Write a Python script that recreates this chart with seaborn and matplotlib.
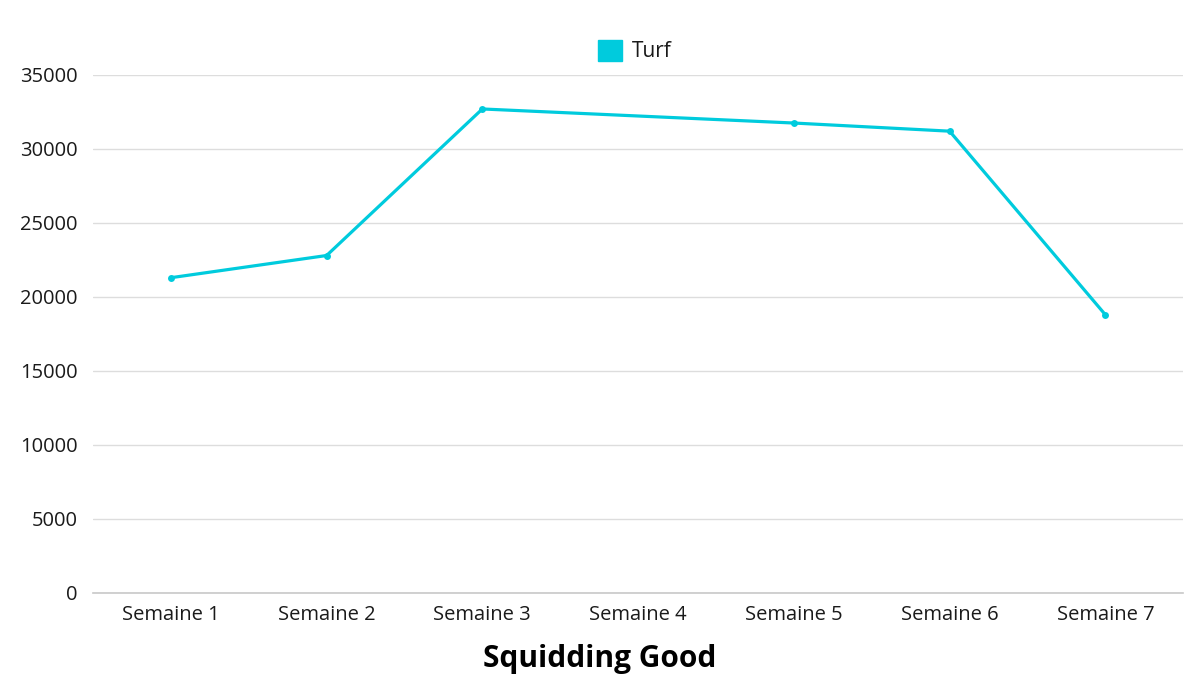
import numpy as np
import pandas as pd
import seaborn as sns
import matplotlib.pyplot as plt
from matplotlib.patches import Patch

categories = ["Semaine 1", "Semaine 2", "Semaine 3", "Semaine 4", "Semaine 5", "Semaine 6", "Semaine 7"]
turf = [21300, 22800, 32700, np.nan, 31750, 31200, 18800]
yticks = [0, 5000, 10000, 15000, 20000, 25000, 30000, 35000]
title = "Squidding Good"
series_name = "Turf"
color = "#00CBDD"

sns.set_theme(style="white")
plt.rcParams['font.family'] = ['Open Sans', 'DejaVu Sans']

df = pd.DataFrame({"pos": np.arange(len(categories)), "cat": categories, "value": turf}).dropna()

fig = plt.figure(figsize=(12, 6.75), dpi=100)
ax = fig.add_axes([0.0775, 0.1215, 0.9085, 0.7675])
sns.lineplot(data=df, x="pos", y="value", ax=ax, color=color, linewidth=2.3,
             marker="o", markersize=5, markeredgewidth=0, legend=False)

ax.set_xlim(-0.5, len(categories) - 0.5)
ax.set_ylim(0, 35000)
ax.set_xticks(np.arange(len(categories)))
ax.set_xticklabels(categories, fontsize=14.5, color="#1a1a1a")
ax.set_yticks(yticks)
ax.set_yticklabels([str(v) for v in yticks], fontsize=14.5, color="#1a1a1a")
ax.tick_params(axis="x", length=0, pad=9)
ax.tick_params(axis="y", length=0, pad=11)
ax.yaxis.grid(True, color="#DDDDDD", linewidth=1)
ax.set_axisbelow(True)
for s in ["top", "right", "left"]:
    ax.spines[s].set_visible(False)
ax.spines["bottom"].set_color("#C8C8C8")
ax.spines["bottom"].set_linewidth(1.2)
ax.set_xlabel("")
ax.set_ylabel("")

fig.text(0.5, 0.023, title, ha="center", va="center", fontsize=21.5,
         fontweight="bold", color="#000000")

handles = [Patch(facecolor=color, edgecolor=color, label=series_name)]
fig.legend(handles=handles, loc="center", bbox_to_anchor=(0.529, 0.924), frameon=False,
           fontsize=15, handlelength=1.15, handleheight=1.15, handletextpad=0.45,
           labelcolor="#1a1a1a")

fig.savefig("out.png", dpi=100)
